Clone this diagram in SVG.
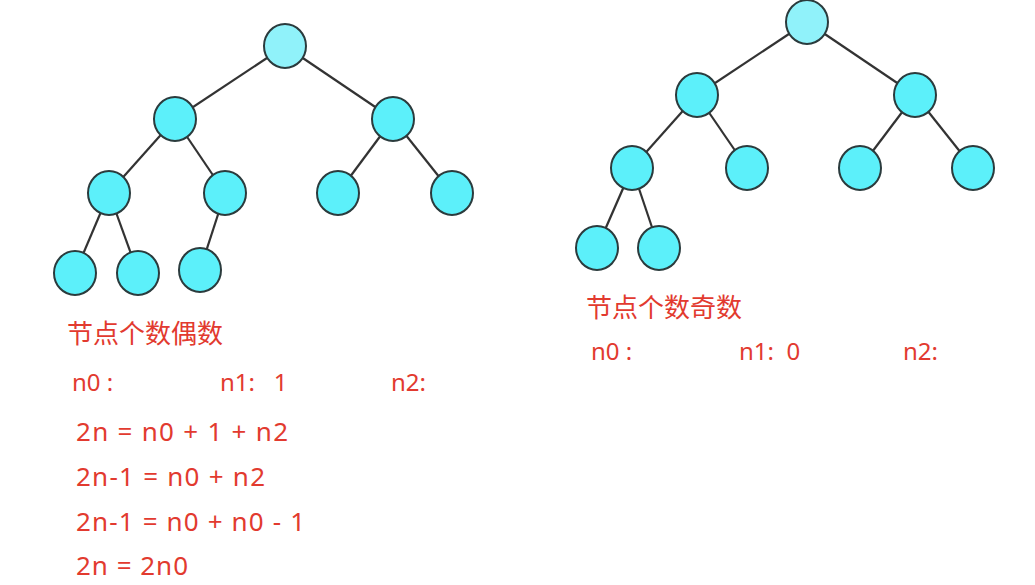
<svg xmlns="http://www.w3.org/2000/svg" width="1035" height="585" viewBox="0 0 1035 585">
<style>
.e{stroke:#333;stroke-width:2.2;fill:none}
.n{fill:#5cf0fa;stroke:#2b3b3d;stroke-width:2}
.r{fill:#90f2fa;stroke:#2b3b3d;stroke-width:2}
.t{fill:#e23a2f;font-family:"Noto Sans","Noto Sans CJK SC",sans-serif;font-size:26px}
.s{fill:#e23a2f;font-family:"Noto Sans","Noto Sans CJK SC",sans-serif;font-size:24px}
.h{fill:#e23a2f;font-family:"Noto Sans CJK SC",sans-serif;font-size:26px}
</style>
<rect width="1035" height="585" fill="#fff"/>
<g id="connectors">
<line class="e" x1="285" y1="46" x2="175" y2="119"/>
<line class="e" x1="285" y1="46" x2="393" y2="119"/>
<line class="e" x1="175" y1="119" x2="109" y2="193"/>
<line class="e" x1="175" y1="119" x2="225" y2="193"/>
<line class="e" x1="393" y1="119" x2="338" y2="193"/>
<line class="e" x1="393" y1="119" x2="452" y2="193"/>
<line class="e" x1="109" y1="193" x2="75" y2="273"/>
<line class="e" x1="109" y1="193" x2="138" y2="273"/>
<line class="e" x1="225" y1="193" x2="200" y2="270"/>
<line class="e" x1="807" y1="22" x2="697" y2="95"/>
<line class="e" x1="807" y1="22" x2="915" y2="95"/>
<line class="e" x1="697" y1="95" x2="632" y2="168"/>
<line class="e" x1="697" y1="95" x2="747" y2="168"/>
<line class="e" x1="915" y1="95" x2="860" y2="168"/>
<line class="e" x1="915" y1="95" x2="973" y2="168"/>
<line class="e" x1="632" y1="168" x2="597" y2="248"/>
<line class="e" x1="632" y1="168" x2="659" y2="248"/>
</g>
<g id="L0"><ellipse class="r" cx="285" cy="46" rx="21" ry="22"/></g>
<g id="L1a"><ellipse class="n" cx="175" cy="119" rx="21" ry="22"/></g>
<g id="L1b"><ellipse class="n" cx="393" cy="119" rx="21" ry="22"/></g>
<g id="L2a"><ellipse class="n" cx="109" cy="193" rx="21" ry="22"/></g>
<g id="L2b"><ellipse class="n" cx="225" cy="193" rx="21" ry="22"/></g>
<g id="L2c"><ellipse class="n" cx="338" cy="193" rx="21" ry="22"/></g>
<g id="L2d"><ellipse class="n" cx="452" cy="193" rx="21" ry="22"/></g>
<g id="L3a"><ellipse class="n" cx="75" cy="273" rx="21" ry="22"/></g>
<g id="L3b"><ellipse class="n" cx="138" cy="273" rx="21" ry="22"/></g>
<g id="L3c"><ellipse class="n" cx="200" cy="270" rx="21" ry="22"/></g>
<g id="R0"><ellipse class="r" cx="807" cy="22" rx="21" ry="22"/></g>
<g id="R1a"><ellipse class="n" cx="697" cy="95" rx="21" ry="22"/></g>
<g id="R1b"><ellipse class="n" cx="915" cy="95" rx="21" ry="22"/></g>
<g id="R2a"><ellipse class="n" cx="632" cy="168" rx="21" ry="22"/></g>
<g id="R2b"><ellipse class="n" cx="747" cy="168" rx="21" ry="22"/></g>
<g id="R2c"><ellipse class="n" cx="860" cy="168" rx="21" ry="22"/></g>
<g id="R2d"><ellipse class="n" cx="973" cy="168" rx="21" ry="22"/></g>
<g id="R3a"><ellipse class="n" cx="597" cy="248" rx="21" ry="22"/></g>
<g id="R3b"><ellipse class="n" cx="659" cy="248" rx="21" ry="22"/></g>
<g id="left-text">
<text class="h" x="67" y="343">节点个数偶数</text>
<text class="s" x="72" y="391">n0 :</text>
<text class="s" x="220" y="391" xml:space="preserve">n1:   1</text>
<text class="s" x="391" y="391">n2:</text>
<text class="t" x="76" y="441" xml:space="preserve" textLength="212" lengthAdjust="spacing">2n = n0 + 1 + n2</text>
<text class="t" x="76" y="486" xml:space="preserve" textLength="189" lengthAdjust="spacing">2n-1 = n0 + n2</text>
<text class="t" x="76" y="531" xml:space="preserve" textLength="229" lengthAdjust="spacing">2n-1 = n0 + n0 - 1</text>
<text class="t" x="76" y="575" xml:space="preserve" textLength="112" lengthAdjust="spacing">2n = 2n0</text>
</g>
<g id="right-text">
<text class="h" x="586" y="317">节点个数奇数</text>
<text class="s" x="591" y="360">n0 :</text>
<text class="s" x="739" y="360" xml:space="preserve">n1:  0</text>
<text class="s" x="903" y="360">n2:</text>
</g>
</svg>
